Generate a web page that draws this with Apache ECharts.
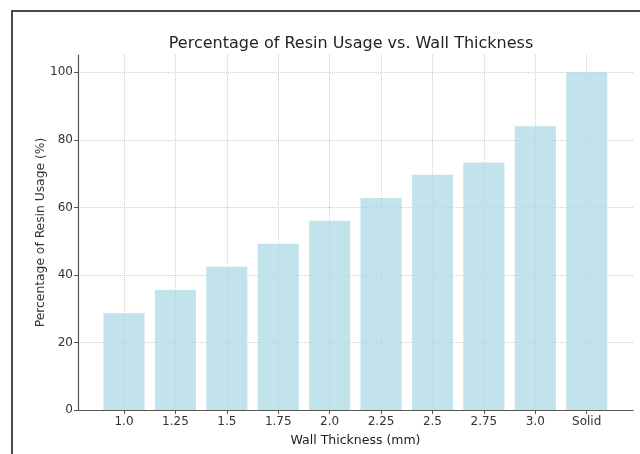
<!DOCTYPE html>
<html>
<head>
<meta charset="utf-8">
<script src="https://cdn.jsdelivr.net/npm/echarts@6/dist/echarts.min.js"></script>
<style>
  html, body { margin: 0; padding: 0; background: #fff; }
  #wrap { position: relative; width: 640px; height: 454px; overflow: hidden; }
  #chart { position: absolute; left: 0; top: 0; width: 640px; height: 454px; }
  #frame { position: absolute; left: 11px; top: 10px; width: 640px; height: 460px;
           border-left: 2px solid #4a4a4a; border-top: 2px solid #4a4a4a; pointer-events: none; }
</style>
</head>
<body>
<div id="wrap">
  <div id="chart"></div>
  <div id="frame"></div>
</div>
<script>
const categories = ['1.0', '1.25', '1.5', '1.75', '2.0', '2.25', '2.5', '2.75', '3.0', 'Solid'];
const resinUsage = [28.6, 35.5, 42.4, 49.2, 56.0, 62.7, 69.6, 73.2, 83.9, 100];
const yTicks = [0, 20, 40, 60, 80, 100];

const titleText = 'Percentage of Resin Usage vs. Wall Thickness';
const xTitle = 'Wall Thickness (mm)';
const yTitle = 'Percentage of Resin Usage (%)';

const FONT = 'DejaVu Sans';
const axisCol = '#555';
const gridCol = '#cfcfcf';

const chart = echarts.init(document.getElementById('chart'), null, { renderer: 'canvas' });
chart.setOption({
  animation: false,
  backgroundColor: '#fff',
  title: {
    text: titleText,
    left: 346, top: 31, textAlign: 'center',
    textStyle: { fontFamily: FONT, fontSize: 16, fontWeight: 'normal', color: '#222' }
  },
  grid: [
    { left: 78, right: 7, top: 55, bottom: 44 },      // spines
    { left: 78, right: 7, top: 72.3, bottom: 44 },    // y ticks/labels/h-grid
    { left: 98.3, right: 27.6, top: 55, bottom: 44 }  // bars / categories
  ],
  xAxis: [
    { gridIndex: 0, type: 'value', min: 0, max: 1,
      axisLine: { show: true, lineStyle: { color: axisCol, width: 1.2 } },
      axisTick: { show: false }, axisLabel: { show: false }, splitLine: { show: false },
      name: xTitle, nameLocation: 'middle', nameGap: 24,
      nameTextStyle: { fontFamily: FONT, fontSize: 12.5, color: '#222' } },
    { gridIndex: 1, type: 'value', min: 0, max: 1, show: false },
    { gridIndex: 2, type: 'category', data: categories,
      axisLine: { show: false },
      axisTick: { show: true, alignWithLabel: true, length: 4, lineStyle: { color: axisCol } },
      axisLabel: { fontFamily: FONT, fontSize: 12, color: '#333', margin: 6 },
      splitLine: { show: true, alignWithLabel: true, lineStyle: { color: gridCol, type: 'dotted', width: 1 } } }
  ],
  yAxis: [
    { gridIndex: 0, type: 'value', min: 0, max: 105,
      axisLine: { show: true, lineStyle: { color: axisCol, width: 1.2 } },
      axisTick: { show: false }, axisLabel: { show: false }, splitLine: { show: false },
      name: yTitle, nameLocation: 'middle', nameGap: 31, nameRotate: 90,
      nameTextStyle: { fontFamily: FONT, fontSize: 12.3, color: '#333' } },
    { gridIndex: 1, type: 'value', min: yTicks[0], max: yTicks[yTicks.length - 1], interval: 20,
      axisLine: { show: false },
      axisTick: { show: true, length: 4, lineStyle: { color: axisCol } },
      axisLabel: { fontFamily: FONT, fontSize: 12, color: '#333', margin: 5 },
      splitLine: { show: true, lineStyle: { color: gridCol, type: 'dotted', width: 1 } } },
    { gridIndex: 2, type: 'value', min: 0, max: 105, show: false }
  ],
  series: [{
    type: 'bar',
    xAxisIndex: 2, yAxisIndex: 2,
    data: resinUsage,
    barWidth: '80%',
    itemStyle: { color: 'rgba(173,216,230,0.75)' },
    z: 1
  }]
});
</script>
</body>
</html>
